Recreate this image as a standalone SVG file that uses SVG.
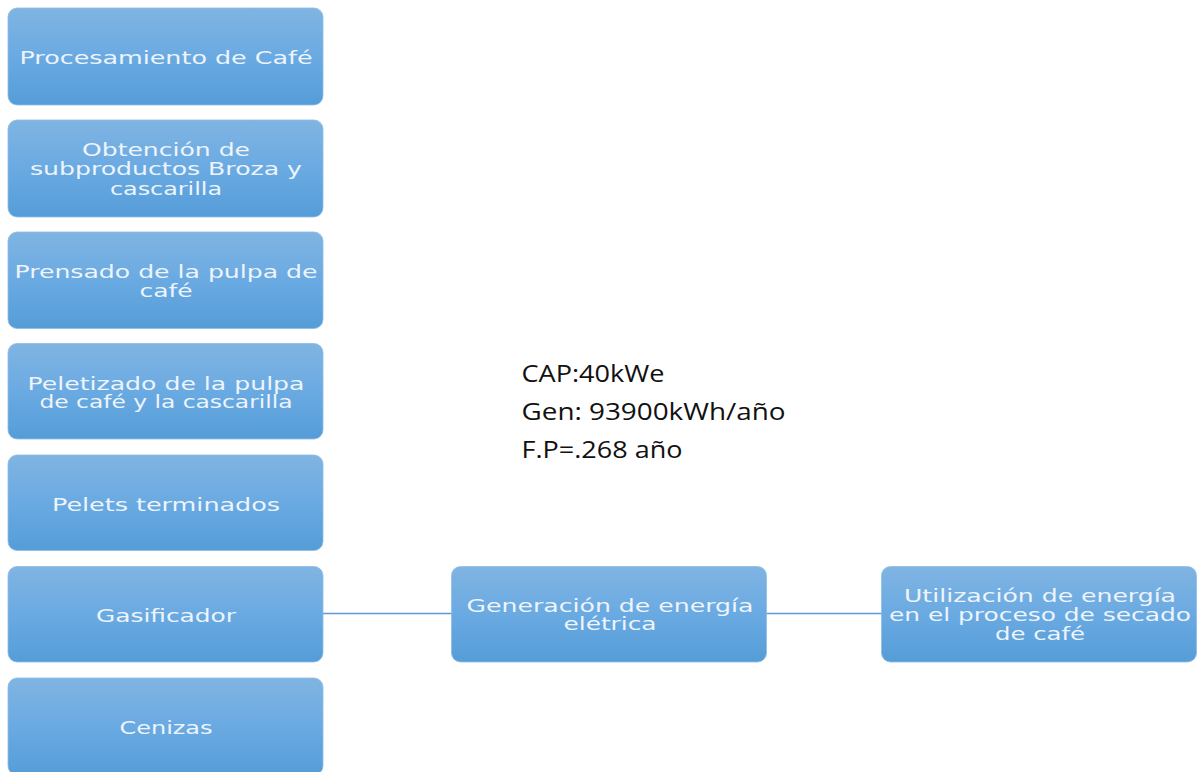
<svg xmlns="http://www.w3.org/2000/svg" width="1201" height="772" viewBox="0 0 1201 772">
<defs>
<linearGradient id="g" x1="0" y1="0" x2="0" y2="1">
<stop offset="0" stop-color="#80b4e2"/>
<stop offset="0.5" stop-color="#6aaae2"/>
<stop offset="1" stop-color="#559dd8"/>
</linearGradient>
<style>
.box{fill:url(#g);stroke:#8ebde6;stroke-width:0.8}
.t{font-family:"DejaVu Sans","Verdana",sans-serif;font-size:17.5px;fill:#eef4fb;text-anchor:middle}
.n{font-family:"Open Sans","Liberation Sans",Arial,sans-serif;font-size:24px;fill:#111}
.c{stroke:#5b9bd5;stroke-width:1.3;fill:none}
</style>
</defs>
<rect width="1201" height="772" fill="#fff"/>
<g id="connectors">
<line class="c" x1="323" y1="613.5" x2="452" y2="613.5"/>
<line class="c" x1="766" y1="613.5" x2="882" y2="613.5"/>
</g>
<g id="n1"><rect class="box" x="8" y="8" width="315" height="97" rx="9"/>
<text class="t" x="166" y="63.5" textLength="293" lengthAdjust="spacingAndGlyphs">Procesamiento de Café</text></g>
<g id="n2"><rect class="box" x="8" y="120" width="315" height="97" rx="9"/>
<text class="t" x="166" y="155.5" textLength="168" lengthAdjust="spacingAndGlyphs">Obtención de</text>
<text class="t" x="166" y="175" textLength="272" lengthAdjust="spacingAndGlyphs">subproductos Broza y</text>
<text class="t" x="166" y="194.5" textLength="112" lengthAdjust="spacingAndGlyphs">cascarilla</text></g>
<g id="n3"><rect class="box" x="8" y="232" width="315" height="96.5" rx="9"/>
<text class="t" x="166" y="278" textLength="303" lengthAdjust="spacingAndGlyphs">Prensado de la pulpa de</text>
<text class="t" x="166" y="296.5" textLength="53" lengthAdjust="spacingAndGlyphs">café</text></g>
<g id="n4"><rect class="box" x="8" y="343.5" width="315" height="95.5" rx="9"/>
<text class="t" x="166" y="389.5" textLength="277" lengthAdjust="spacingAndGlyphs">Peletizado de la pulpa</text>
<text class="t" x="166" y="408" textLength="253" lengthAdjust="spacingAndGlyphs">de café y la cascarilla</text></g>
<g id="n5"><rect class="box" x="8" y="455" width="315" height="95.5" rx="9"/>
<text class="t" x="166" y="511" textLength="228" lengthAdjust="spacingAndGlyphs">Pelets terminados</text></g>
<g id="n6"><rect class="box" x="8" y="566.5" width="315" height="95.5" rx="9"/>
<text class="t" x="166" y="622" textLength="140" lengthAdjust="spacingAndGlyphs">Gasificador</text></g>
<g id="n7"><rect class="box" x="8" y="678" width="315" height="97" rx="9"/>
<text class="t" x="166" y="734" textLength="93" lengthAdjust="spacingAndGlyphs">Cenizas</text></g>
<g id="n8"><rect class="box" x="451.5" y="566.5" width="315" height="95.5" rx="9"/>
<text class="t" x="610" y="611.5" textLength="287" lengthAdjust="spacingAndGlyphs">Generación de energía</text>
<text class="t" x="610" y="630" textLength="93" lengthAdjust="spacingAndGlyphs">elétrica</text></g>
<g id="n9"><rect class="box" x="881.5" y="566.5" width="315" height="95.5" rx="9"/>
<text class="t" x="1040" y="601.5" textLength="272" lengthAdjust="spacingAndGlyphs">Utilización de energía</text>
<text class="t" x="1040" y="620.5" textLength="302" lengthAdjust="spacingAndGlyphs">en el proceso de secado</text>
<text class="t" x="1040" y="640" textLength="90" lengthAdjust="spacingAndGlyphs">de café</text></g>
<g id="note">
<text class="n" x="521.5" y="382" textLength="143" lengthAdjust="spacingAndGlyphs">CAP:40kWe</text>
<text class="n" x="521.5" y="420" textLength="264" lengthAdjust="spacingAndGlyphs">Gen: 93900kWh/año</text>
<text class="n" x="521.5" y="457.5" textLength="161" lengthAdjust="spacingAndGlyphs">F.P=.268 año</text>
</g>
</svg>
